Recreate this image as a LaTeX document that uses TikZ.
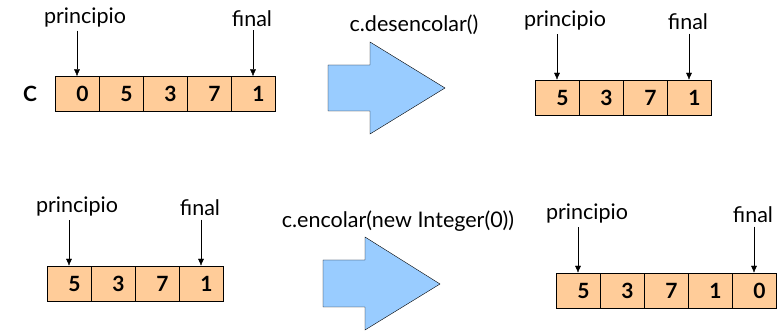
\documentclass[tikz,border=0pt]{standalone}
\usepackage{fontspec}
\setmainfont{Lato}
\usetikzlibrary{arrows.meta}
\definecolor{naranja}{HTML}{FFCC99}
\definecolor{azul}{HTML}{99CCFF}
\tikzset{
  celda/.style={draw,fill=naranja,minimum width=44pt,minimum height=35pt,inner sep=0pt,
    font=\fontsize{21}{22}\selectfont\bfseries},
  etiq/.style={anchor=base,font=\fontsize{21.5}{24}\selectfont},
  puntero/.style={-{Latex[length=7pt,width=6pt]}},
  grande/.style={draw,fill=azul,line join=miter}
}
\newcommand{\dig}[1]{\hspace*{11pt}#1}

\begin{document}
\begin{tikzpicture}[x=1pt,y=-1pt]
  \useasboundingbox (0,0) rectangle (780,331);
  % c antes de desencolar
  \node[font=\fontsize{21}{22}\selectfont\bfseries] (nombre) at (30,94) {C};
  \foreach \v [count=\i] in {0,5,3,7,1}
    \node[celda] (a\i) at ({33+44*\i},94) {\dig{\v}};
  \node[etiq] (pa) at (85,23.3) {principio};
  \node[etiq] (fa) at (252,26.7) {final};
  \draw[puntero] (pa.south -| a1.north) -- (a1.north);
  \draw[puntero] (fa.south -| a5.north) -- (a5.north);
  % c.desencolar()
  \draw[grande] (328,65) -- (370,65) -- (370,42) -- (445,88) -- (370,134) -- (370,111) -- (328,111) -- cycle;
  \node[etiq] (op1) at (414,32) {c.desencolar()};
  \foreach \v [count=\i] in {5,3,7,1}
    \node[celda] (b\i) at ({513+44*\i},97.5) {\dig{\v}};
  \node[etiq] (pb) at (565,27) {principio};
  \node[etiq] (fb) at (688,30) {final};
  \draw[puntero] (pb.south -| b1.north) -- (b1.north);
  \draw[puntero] (fb.south -| b4.north) -- (b4.north);
  % c antes de encolar
  \foreach \v [count=\i] in {5,3,7,1}
    \node[celda] (c\i) at ({25+44*\i},283.5) {\dig{\v}};
  \node[etiq] (pc) at (77,213) {principio};
  \node[etiq] (fc) at (200,216) {final};
  \draw[puntero] (pc.south -| c1.north) -- (c1.north);
  \draw[puntero] (fc.south -| c4.north) -- (c4.north);
  % c.encolar(...)
  \draw[grande] (323,260) -- (365,260) -- (365,237) -- (440,284) -- (365,330) -- (365,307) -- (323,307) -- cycle;
  \node[etiq] (op2) at (398,228) {c.encolar(new Integer(0))};
  \foreach \v [count=\i] in {5,3,7,1,0}
    \node[celda] (d\i) at ({534+44*\i},290.5) {\dig{\v}};
  \node[etiq] (pd) at (587,220) {principio};
  \node[etiq] (fd) at (753,223) {final};
  \draw[puntero] (pd.south -| d1.north) -- (d1.north);
  \draw[puntero] (fd.south -| d5.north) -- (d5.north);
\end{tikzpicture}
\end{document}
